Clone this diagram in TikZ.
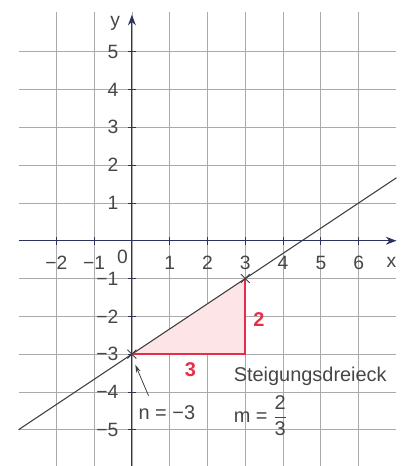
\documentclass[tikz,border=0pt]{standalone}
\usepackage{fontspec}
\usepackage{amsmath}
\setmainfont{Liberation Sans}
\usetikzlibrary{arrows.meta,calc,shapes.misc}
\definecolor{axisblue}{RGB}{45,50,95}
\definecolor{gridgray}{RGB}{170,170,170}
\definecolor{slopered}{RGB}{232,45,72}
\definecolor{labelgray}{RGB}{70,70,70}
\tikzset{
  % grid and axes
  gridline/.style={gridgray,line width=0.6pt},
  axisline/.style={axisblue,line width=0.8pt,-{Stealth[length=8pt,width=6pt]}},
  tickmark/.style={axisblue,line width=0.6pt},
  ticklabel/.style={inner sep=0pt,font=\fontsize{14.5}{17}\selectfont},
  % graph of the line
  graphline/.style={black!78,line width=0.8pt},
  crossmark/.style={draw=black!75,cross out,line width=0.7pt,minimum size=6pt,inner sep=0pt},
  % slope triangle
  legline/.style={slopered,line width=1.2pt},
  legfill/.style={fill=slopered!13},
  leglabel/.style={slopered,font=\fontsize{15}{18}\selectfont\bfseries},
  pointer/.style={black!75,line width=0.6pt,-{Stealth[length=6pt,width=3.5pt]}},
}

\begin{document}
\begin{tikzpicture}[
  every node/.style={text=labelgray,font=\fontsize{15}{18}\selectfont},
]
\useasboundingbox (-3.49,-5.96) rectangle (7.12,6.37);
% grid
\foreach \y in {-5,...,5}
  \draw[gridline] (-3,\y) -- (7,\y);
\foreach \x in {-2,...,6}
  \draw[gridline] (\x,-6.2) -- (\x,6.05);
% slope triangle
\coordinate (P) at (0,-3);
\coordinate (Q) at (3,-3);
\coordinate (R) at (3,-1);
\fill[legfill] (P) -- (Q) -- (R) -- cycle;
% axes
\draw[axisline] (-3,0) -- (7,0);
\draw[axisline] (0,-6.2) -- (0,5.98);
\foreach \x in {-2,-1,1,2,3,4,5,6}
  \draw[tickmark] (\x,-0.1) -- (\x,0.1);
\foreach \y in {-5,...,-1,1,2,3,4,5}
  \draw[tickmark] (-0.1,\y) -- (0.1,\y);
\foreach \x/\t in {-2/−2,-1/−1,1/1,2/2,3/3,4/4,5/5,6/6}
  \node[ticklabel] (xl\x) at (\x,-0.59) {\t};
\foreach \y/\t in {-5/−5,-4/−4,-3/−3,-2/−2,-1/−1,1/1,2/2,3/3,4/4,5/5}
  \node[ticklabel,anchor=east] (yl\y) at (-0.35,\y) {\t};
\node[ticklabel] (orig) at (-0.25,-0.42) {0};
\node[ticklabel] (xname) at (6.87,-0.57) {x};
\node[ticklabel] (yname) at (-0.44,5.76) {y};
% line y = 2/3 x - 3
\draw[graphline] (-3,-5) -- (7,{2/3*7-3});
\draw[legline] (P) -- (Q) -- (R);
\node[crossmark] (Pmark) at (P) {};
\node[crossmark] (Rmark) at (R) {};
\node[leglabel] (rise) at (3.36,-2.08) {2};
\node[leglabel] (run) at (1.55,-3.42) {3};
% texts
\node[anchor=west,inner sep=0pt] (title) at (2.69,-3.6) {Steigungsdreieck};
\node[anchor=west,inner sep=0pt] (slope) at (2.69,-4.62) {m = $\dfrac{\mbox{2}}{\mbox{3}}$};
\node[anchor=west,inner sep=0pt] (nlab) at (0.17,-4.56) {n = −3};
\coordinate (ntail) at (0.44,-4.1);
\coordinate (ntip) at (0.09,-3.28);
\draw[pointer] (ntail) -- (ntip);
\end{tikzpicture}
\end{document}
